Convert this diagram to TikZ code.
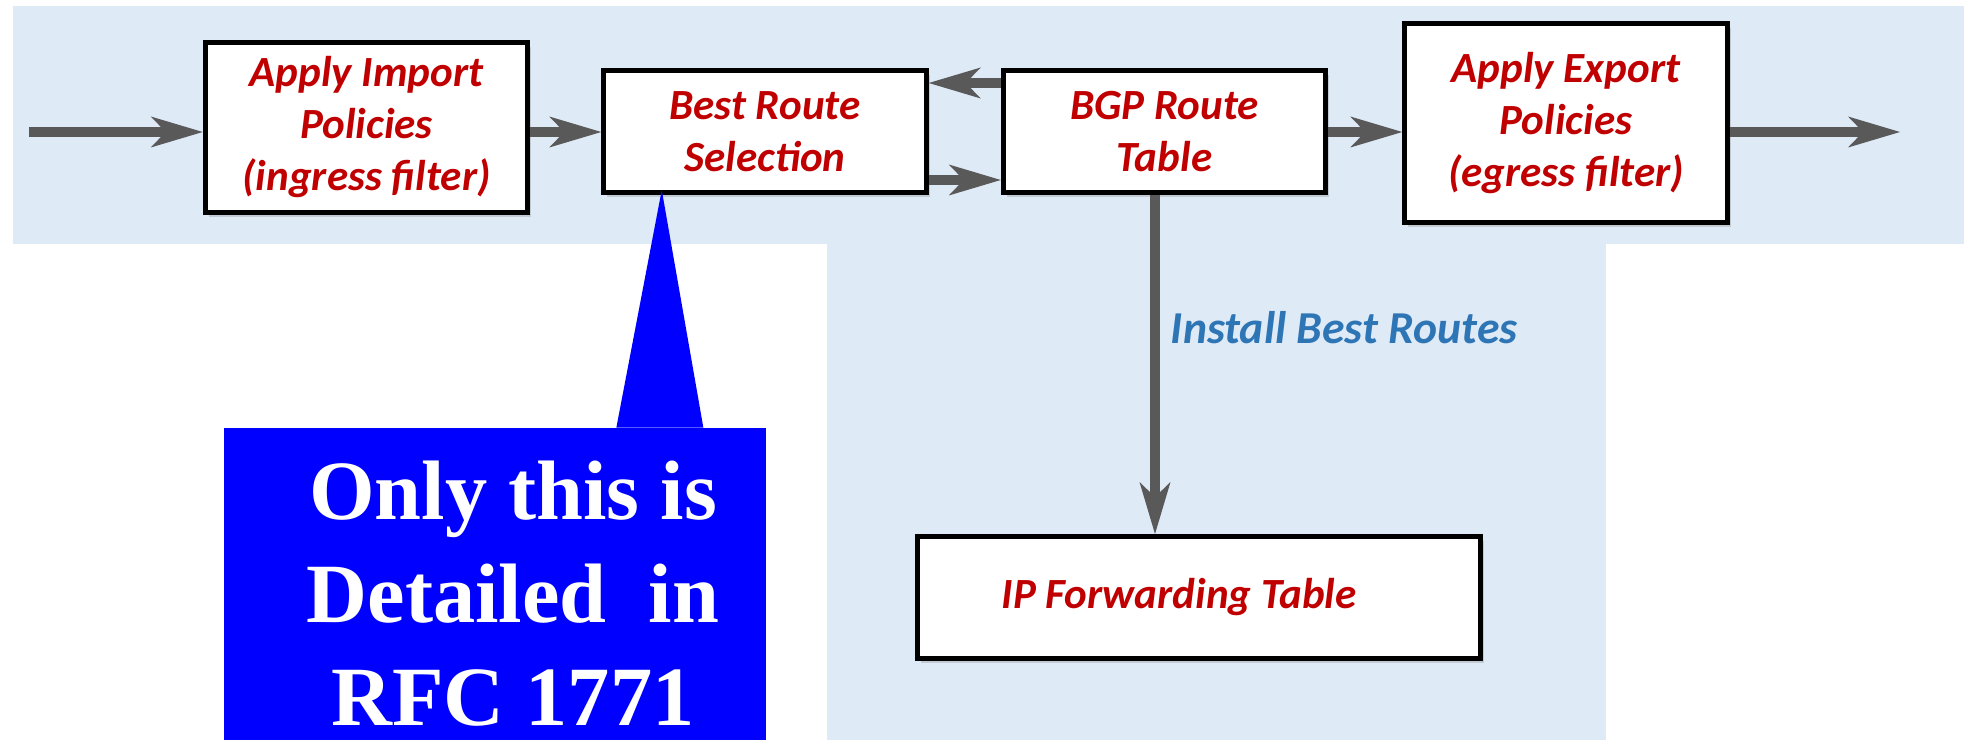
\documentclass[tikz,border=0pt]{standalone}
\usepackage{fontspec}
\setmainfont{Carlito}
\newfontfamily\rfcfont{Liberation Serif}
\usetikzlibrary{positioning, arrows.meta, shadows, calc}

\definecolor{bandblue}{RGB}{222,234,246}
\definecolor{labelred}{RGB}{192,0,0}
\definecolor{routeblue}{RGB}{46,117,182}
\definecolor{flowgray}{RGB}{89,89,89}
\definecolor{calloutblue}{RGB}{0,0,255}

\begin{document}
\begin{tikzpicture}[
    box/.style={rectangle, draw=black, line width=0.1cm, fill=white, minimum width=6.45cm, minimum height=#1, align=center, text=labelred, font=\fontsize{24.5}{29.6}\selectfont\bfseries\itshape, drop shadow={shadow xshift=0.07cm, shadow yshift=-0.09cm, opacity=0.3}},
    box/.default=2.44cm,
    flow/.style={-{Stealth[length=1.04cm, width=0.62cm, inset=0.3cm, line width=0pt]}, line width=0.2cm, color=flowgray},
    install/.style={anchor=west, xshift=0.1cm, text=routeblue, font=\fontsize{26}{30}\selectfont\bfseries\itshape},
    callout/.style={rectangle, fill=calloutblue, minimum width=10.84cm, minimum height=6.24cm, inner sep=0pt},
    notetext/.style={text=white, align=center, inner sep=0pt, font=\rfcfont\bfseries\fontsize{48}{58.6}\selectfont},
]
\useasboundingbox (0,0) rectangle (39.28,14.8);

% shaded background
\fill[bandblue] (0.26,9.92) rectangle (39.28,14.68);
\fill[bandblue] (16.54,0) rectangle (32.12,9.92);

% processing stages
\node[box=3.4cm] (import) at (7.33, 12.25) {Apply Import\\Policies\\(ingress filter)};
\node[box] (best) at (15.3, 12.17) {Best Route\\Selection};
\node[box] (bgp) at (23.29, 12.17) {BGP Route\\ Table};
\node[box=3.98cm] (export) at (31.32, 12.34) {Apply Export\\Policies\\(egress filter)};
\node[box, minimum width=11.26cm] (fib) at (23.98, 2.85) {IP Forwarding Table\hspace*{0.8cm}};

% route flow
\coordinate (src) at (0.58, 12.16);
\coordinate (sink) at (38.0, 12.16);
\draw[flow] (src) -- (src -| import.west);
\draw[flow] (src -| import.east) -- (src -| best.west);
\draw[flow] ([yshift=-0.3cm]bgp.north west) -- ([yshift=-0.3cm]best.north east);
\draw[flow] ([yshift=0.3cm]best.south east) -- ([yshift=0.3cm]bgp.south west);
\draw[flow] (src -| bgp.east) -- (src -| export.west);
\draw[flow] (src -| export.east) -- (sink);
\draw[flow] ([xshift=-0.19cm]bgp.south) coordinate (drop) -- node[install, pos=0.39] {Install Best Routes} (drop |- fib.north);

% callout
\node[callout] (note) at (9.9, 3.12) {};
\fill[calloutblue] ([xshift=-3.0cm]note.north east) -- ([xshift=1.21cm, yshift=0.1cm]best.south west) -- ([xshift=-1.26cm]note.north east) -- cycle;
\node[notetext, anchor=north] (rfc) at ([xshift=0.36cm, yshift=-0.66cm]note.north) {Only this is\\Detailed\ \ in\\RFC 1771};
\end{tikzpicture}
\end{document}
